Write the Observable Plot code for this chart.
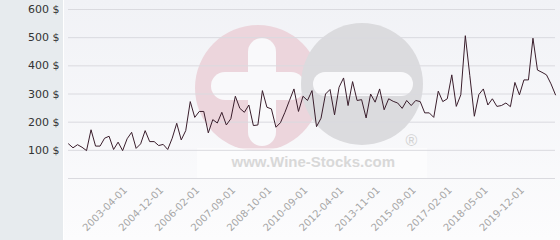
<!DOCTYPE html>
<html><head><meta charset="utf-8">
<script src="https://cdn.jsdelivr.net/npm/d3@7"></script>
<script src="https://cdn.jsdelivr.net/npm/@observablehq/plot@0.6"></script>
<style>
body{margin:0;background:#fff}
#chart svg{display:block}
</style>
</head><body><div id="chart"></div>
<script>
const prices = [123,109,120,111,99,173,115,115,143,150,103,129,99,141,164,107,123,170,131,131,
  117,121,103,143,196,137,170,273,217,238,238,162,209,197,235,190,212,292,249,235,
  261,188,190,312,253,247,182,198,235,277,318,238,292,277,312,184,214,300,316,226,
  324,357,259,344,277,280,215,300,271,318,244,283,274,268,249,277,259,277,273,233,
  233,217,310,273,283,368,256,297,507,365,221,298,318,261,283,256,259,268,255,341,
  297,350,350,498,385,377,368,336,297];
const tickIndex = [12,20,28,36,44,52,60,68,76,84,92,100];
const tickLabels = ["2003-04-01","2004-12-01","2006-02-01","2007-09-01","2008-10-01","2010-09-01",
  "2012-04-01","2013-11-01","2015-09-01","2017-02-01","2018-05-01","2019-12-01"];
const yTicks = [100,200,300,400,500,600];
const gridTicks = [0,100,200,300,400,500,600];
const watermark = ["www.Wine-Stocks.com"];

const data = prices.map((v,i)=>({i, v}));

const chart = Plot.plot({
  width:560, height:240,
  marginLeft:68, marginRight:5, marginTop:9, marginBottom:62,
  style:{fontFamily:"DejaVu Sans", background:"linear-gradient(#ffffff,#ffffff) 63px 0/1px 100% no-repeat, linear-gradient(#e7ebee,#e7ebee) 0 0/63px 100% no-repeat, linear-gradient(#f1f2f6,#fcfcfd)"},
  x:{domain:[0,prices.length-1]},
  y:{domain:[0,600]},
  marks:[
    Plot.text(watermark,{frameAnchor:"top-left", textAnchor:"start", lineAnchor:"bottom", dx:163, dy:157,
      fontFamily:"Liberation Sans", fontWeight:"bold", fontSize:15, fill:"#d8d8d8"}),
    Plot.text(["®"],{frameAnchor:"top-left", textAnchor:"start", lineAnchor:"bottom", dx:337, dy:136,
      fontFamily:"Liberation Sans", fontSize:16, fill:"#d2d2d2"}),
    Plot.gridY(gridTicks,{stroke:"#dadadf", strokeOpacity:1}),
    Plot.axisY(yTicks,{tickSize:0, tickPadding:9, tickFormat:d=>d+" $", fontSize:11, fill:"#333", label:null}),
    Plot.axisX(tickIndex,{tickSize:0, tickPadding:10, dx:3, tickRotate:-45, tickFormat:d=>tickLabels[tickIndex.indexOf(d)], fontSize:10, fill:"#a6a6a6", label:null}),
    Plot.lineY(data,{x:"i", y:"v", stroke:"#3a1e2c", strokeWidth:1})
  ]
});

// decorative watermark shapes (pixel space)
const ns = "http://www.w3.org/2000/svg";
const g = document.createElementNS(ns,"g");
function el(tag, attrs){
  const e = document.createElementNS(ns, tag);
  for (const k in attrs) e.setAttribute(k, attrs[k]);
  g.appendChild(e);
  return e;
}
el("circle",{cx:258,cy:88,r:63,fill:"#ecd5dc"});
el("rect",{x:248,y:38,width:28,height:108,rx:14,fill:"#f9f9fb"});
el("rect",{x:211,y:72,width:94,height:28,rx:14,fill:"#f9f9fb"});
el("circle",{cx:362,cy:84,r:61,fill:"#dbdbde"});
el("rect",{x:313,y:72,width:100,height:24,rx:12,fill:"#f9f9fb"});
el("rect",{x:197,y:148,width:230,height:30,fill:"#ffffff",opacity:0.5});
chart.insertBefore(g, chart.firstChild);
document.getElementById("chart").appendChild(chart);
</script>
</body></html>
